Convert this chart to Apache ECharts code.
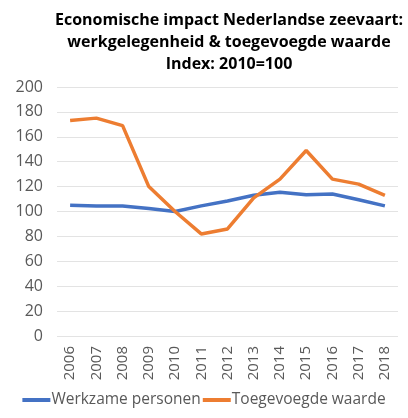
<!DOCTYPE html>
<html><head><meta charset="utf-8">
<script src="https://cdn.jsdelivr.net/npm/echarts@6/dist/echarts.min.js"></script>
<style>html,body{margin:0;padding:0;background:#fff}#c{width:408px;height:418px}</style>
</head><body><div id="c"></div>
<script>
const categories = ['2006','2007','2008','2009','2010','2011','2012','2013','2014','2015','2016','2017','2018'];
const werkzamePersonen = [105, 104.5, 104.5, 102.5, 100, 104.5, 108.5, 113, 115.5, 113.5, 114, 109.5, 104.5];
const toegevoegdeWaarde = [173, 175, 169, 120, 100, 82, 86, 111, 126, 149, 126, 122, 113];
const titleText = 'Economische impact Nederlandse zeevaart:\nwerkgelegenheid & toegevoegde waarde\nIndex: 2010=100';
const font = 'Open Sans';
const chart = echarts.init(document.getElementById('c'));
chart.setOption({
  animation: false,
  title: {
    text: titleText, left: 224, top: 4, textAlign: 'center',
    textStyle: {fontFamily: font, fontSize: 16, fontWeight: 'bold', color: '#000', lineHeight: 22}
  },
  grid: {left: 57, right: 10, top: 87, bottom: 82},
  legend: {
    bottom: 5, left: 'center', itemGap: 2, itemWidth: 28, itemHeight: 4, icon: 'rect',
    textStyle: {fontFamily: font, fontSize: 15.5, color: '#595959', padding: [0,0,0,-4]},
    data: ['Werkzame personen', 'Toegevoegde waarde']
  },
  xAxis: {
    type: 'category', data: categories, boundaryGap: true,
    axisLine: {show: false}, axisTick: {show: false},
    axisLabel: {rotate: 90, fontFamily: font, fontSize: 15, color: '#595959', margin: 10}
  },
  yAxis: {
    type: 'value', min: 0, max: 200, interval: 20,
    axisLine: {show: false}, axisTick: {show: false},
    axisLabel: {fontFamily: font, fontSize: 16, color: '#595959', margin: 14},
    splitLine: {lineStyle: {color: '#e3e3e3', width: 1}}
  },
  series: [
    {name: 'Werkzame personen', type: 'line', data: werkzamePersonen, symbol: 'none',
     lineStyle: {color: '#4472C4', width: 3.5}, itemStyle: {color: '#4472C4'}},
    {name: 'Toegevoegde waarde', type: 'line', data: toegevoegdeWaarde, symbol: 'none',
     lineStyle: {color: '#ED7D31', width: 3.5}, itemStyle: {color: '#ED7D31'}}
  ]
});
</script></body></html>
